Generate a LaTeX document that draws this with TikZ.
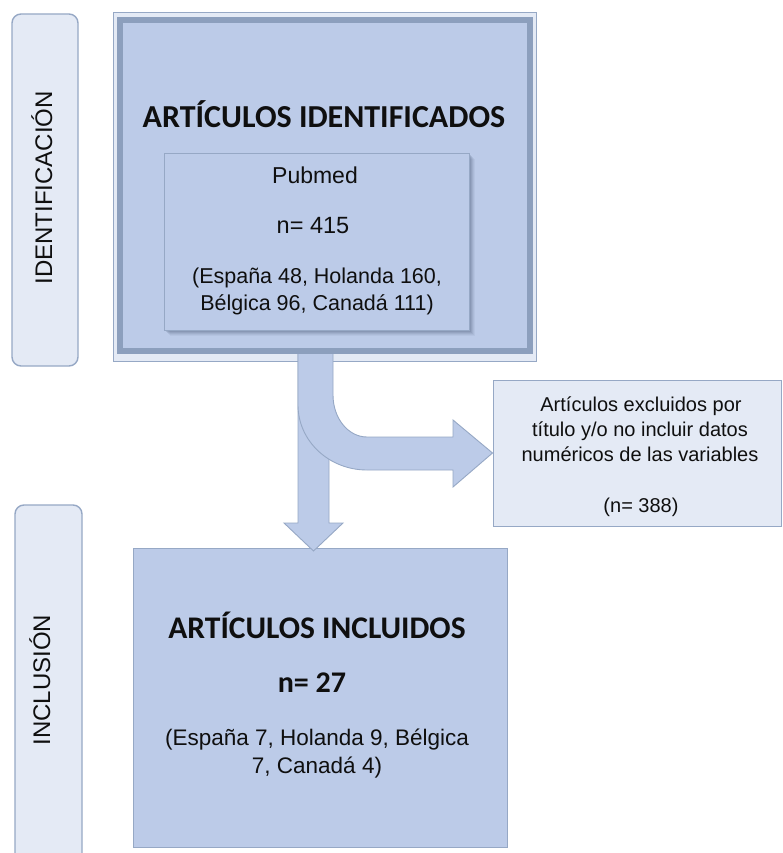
\documentclass[tikz,border=0pt]{standalone}
\usepackage{fontspec}
\setmainfont{Liberation Sans}
\newfontfamily\calib{Carlito}
\definecolor{mainfill}{RGB}{188,203,232}
\definecolor{lightfill}{RGB}{228,234,245}
\definecolor{edgec}{RGB}{150,168,197}
\definecolor{framec}{RGB}{140,159,189}
\definecolor{txtc}{RGB}{15,15,15}
\definecolor{shadowc}{RGB}{95,112,140}
\tikzset{
  sidebox/.style={draw=edgec, line width=1.4pt, fill=lightfill, rounded corners=9pt, inner sep=0pt},
  sidelabel/.style={rotate=90, anchor=base, text=txtc, font=\fontsize{24}{28}\selectfont, inner sep=0pt},
  bluebox/.style={draw=edgec, line width=0.9pt, fill=mainfill, inner sep=0pt},
  lightbox/.style={draw=edgec, line width=1pt, fill=lightfill, inner sep=0pt},
  txtline/.style={anchor=base, text=txtc, inner sep=0pt},
  titlefont/.style={font=\calib\bfseries\fontsize{32}{36}\selectfont},
  blockarrow/.style={draw=edgec, line width=0.9pt, fill=mainfill, line join=miter}
}
\begin{document}
\begin{tikzpicture}[x=1pt,y=-1pt]
\useasboundingbox (0,0) rectangle (782,853);
\clip (0,0) rectangle (782,853);
\fill[white] (0,0) rectangle (782,853);

% side labels
\node[sidebox, minimum width=66pt, minimum height=352pt] (ident) at (45,190) {};
\node[sidelabel] (identtxt) at (52,188) {IDENTIFICACIÓN};
\node[sidebox, minimum width=67pt, minimum height=380pt] (incl) at (48.5,695) {};
\node[sidelabel] (incltxt) at (50,680) {INCLUSIÓN};

% top box with frame
\node[draw=edgec, line width=1pt, fill=lightfill, minimum width=423pt, minimum height=348pt, inner sep=0pt] (top) at (324.5,187) {};
\draw[framec, line width=6pt, fill=mainfill] (119.5,20) rectangle (530,350.5);
\node[txtline, titlefont] (toptitle) at (324,128) {ARTÍCULOS IDENTIFICADOS};

% pubmed box with soft shadow
\foreach \o/\op in {6/0.08,5/0.10,4/0.14,3/0.18,2/0.22}{
  \fill[shadowc, opacity=\op] (164+\o,153+\o) rectangle (469+\o,330+\o);
}
\node[bluebox, minimum width=305pt, minimum height=177pt] (pubmed) at (316.5,241.5) {};
\node[txtline, font=\fontsize{23}{27}\selectfont] (pm1) at (315,183) {Pubmed};
\node[txtline, font=\fontsize{23.5}{27}\selectfont] (pm2) at (313,233) {n= 415};
\node[txtline, font=\fontsize{21.5}{26}\selectfont] (pm3) at (317,283) {(España 48, Holanda 160,};
\node[txtline, font=\fontsize{21.5}{26}\selectfont] (pm4) at (317,310) {Bélgica 96, Canadá 111)};

% excluded box
\node[lightbox, minimum width=288pt, minimum height=146pt] (excl) at (637,453) {};
\node[txtline, font=\fontsize{20}{24}\selectfont] (ex1) at (641,411) {Artículos excluidos por};
\node[txtline, font=\fontsize{20}{24}\selectfont] (ex2) at (640,436) {título y/o no incluir datos};
\node[txtline, font=\fontsize{20}{24}\selectfont] (ex3) at (640,461) {numéricos de las variables};
\node[txtline, font=\fontsize{20}{24}\selectfont] (ex4) at (641,512) {(n= 388)};

% included box
\node[bluebox, minimum width=374pt, minimum height=299pt] (final) at (320,697.5) {};
\node[txtline, font=\calib\bfseries\fontsize{31.5}{36}\selectfont] (fintitle) at (317,638) {ARTÍCULOS INCLUIDOS};
\node[txtline, font=\calib\bfseries\fontsize{30}{34}\selectfont] (fin2) at (312,692) {n= 27};
\node[txtline, font=\fontsize{22.5}{27}\selectfont] (fin3) at (317,745) {(España 7, Holanda 9, Bélgica};
\node[txtline, font=\fontsize{22.5}{27}\selectfont] (fin4) at (317,773) {7, Canadá 4)};

% down block arrow
\coordinate (dtip) at (313.5,551);
\draw[blockarrow] (298,354) -- (298,523) -- (284,523) -- (dtip) -- (343,523) -- (329,523) -- (329,354);
% bent block arrow towards excluded box
\coordinate (rtip) at (excl.west);
\draw[blockarrow] (298,354) -- (298,405) .. controls (298,441) and (329,470) .. (367,470)
  -- (453,470) -- (453,487) -- (rtip) -- (453,420) -- (453,437) -- (367,437)
  .. controls (348,437) and (333,418) .. (333,395) -- (333,354);
\end{tikzpicture}
\end{document}
